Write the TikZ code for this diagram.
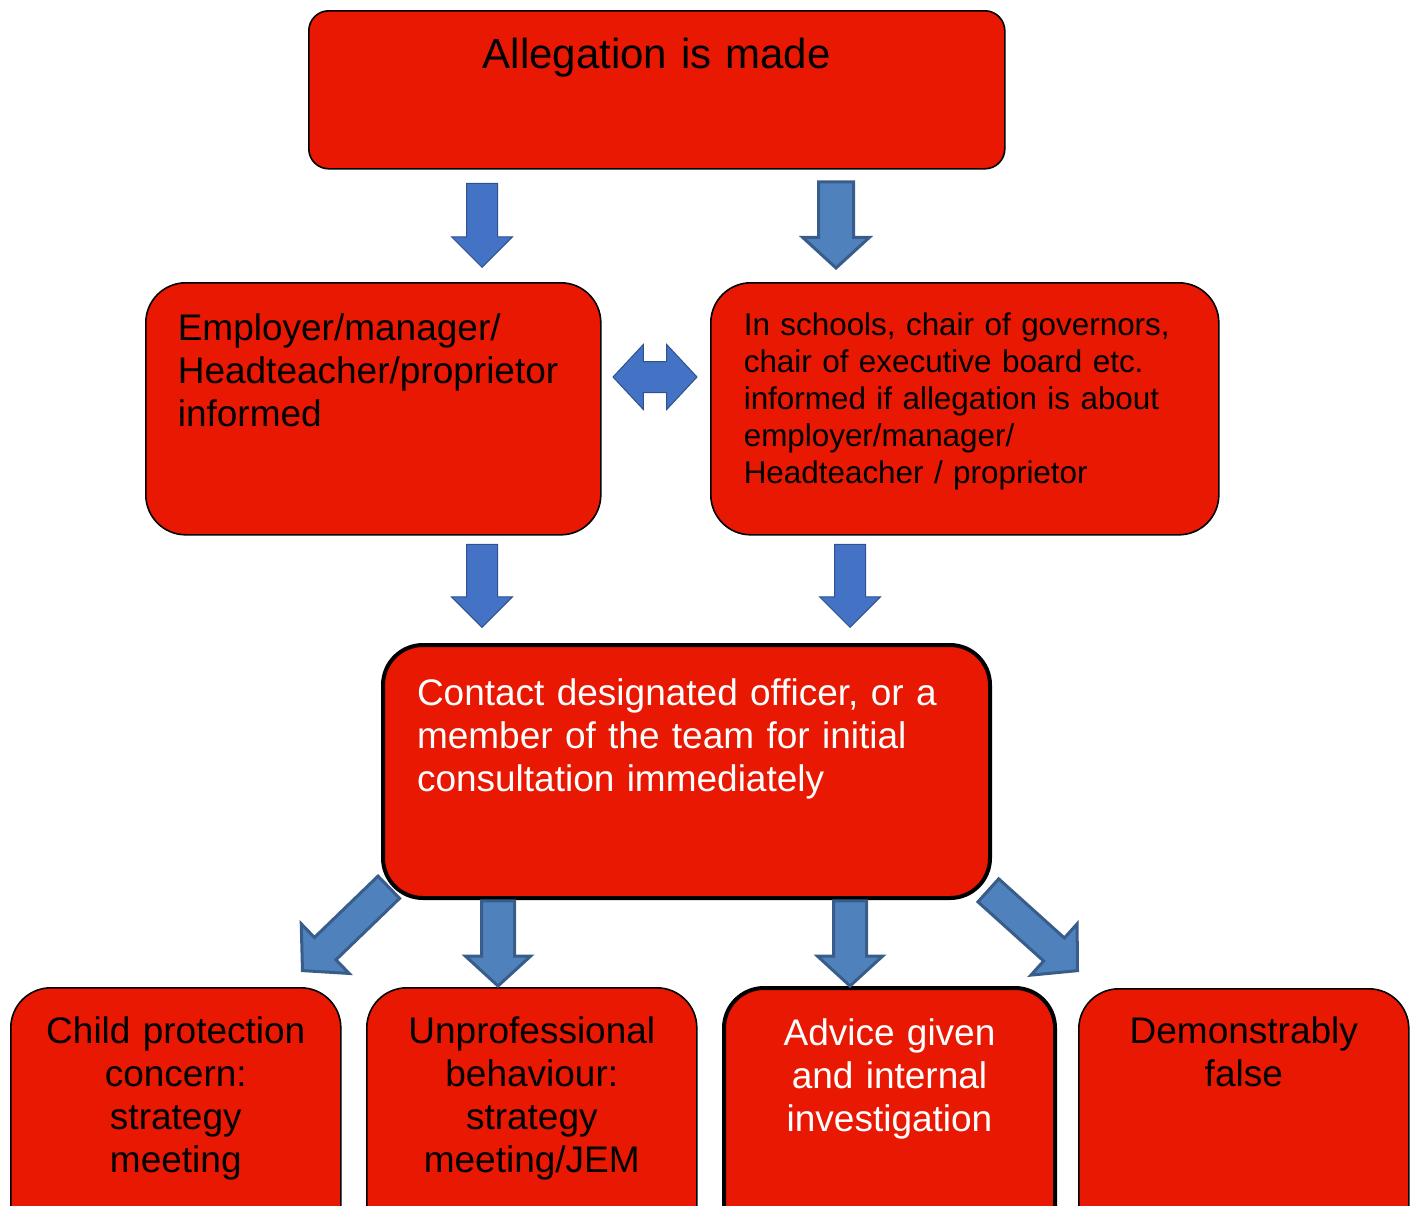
\documentclass[tikz,border=0pt]{standalone}
\usepackage{fontspec}
\setmainfont{Liberation Sans}
\usetikzlibrary{shapes.arrows}

\definecolor{boxred}{RGB}{232,24,2}
\definecolor{arrowblue}{RGB}{68,114,196}
\definecolor{arrowblueedge}{RGB}{47,82,143}
\definecolor{arrowsteel}{RGB}{79,129,189}
\definecolor{arrowsteeledge}{RGB}{56,93,138}

\tikzset{
  redbox/.style={rectangle, rounded corners=20pt, draw=black, fill=boxred, line width=0.8pt,
    inner ysep=0pt, anchor=north west},
  thickbox/.style={redbox, line width=2pt},
  bigfont/.style={font=\fontsize{18.5pt}{21.5pt}\selectfont},
  smallfont/.style={font=\fontsize{15.7pt}{18.5pt}\selectfont},
  bluearrow/.style={single arrow, draw=arrowblueedge, fill=arrowblue, line width=0.5pt,
    inner xsep=0pt, inner ysep=7.5pt, minimum width=1pt, single arrow head extend=7.5pt,
    single arrow tip angle=90, anchor=tip},
  steelarrow/.style={single arrow, draw=arrowsteeledge, fill=arrowsteel, line width=1.5pt,
    inner xsep=0pt, inner ysep=7.5pt, minimum width=1pt, single arrow head extend=8pt,
    single arrow tip angle=95, anchor=tip},
  bluedouble/.style={double arrow, draw=arrowblueedge, fill=arrowblue, line width=0.5pt,
    inner xsep=0pt, inner ysep=7.5pt, minimum width=1pt, double arrow head extend=8.5pt,
    double arrow tip angle=94, minimum height=42pt}
}

\begin{document}
\begin{tikzpicture}[x=0.5pt,y=-0.5pt]
\useasboundingbox (0,0) rectangle (1416,1205);
\clip (0,0) rectangle (1416,1205);

%Shape: Rounded Rectangle
\node[redbox, rounded corners=10pt, text width=348pt, inner xsep=0pt, align=center,
  text height=29pt, text depth=50pt, font=\fontsize{21pt}{24pt}\selectfont] (allegation) at (308,10) {Allegation is made};
%Shape: Rounded Rectangle
\node[redbox, bigfont, text width=195.5pt, inner xsep=16pt, align=left,
  text height=29pt, text depth=97pt] (employer) at (145,282) {Employer/manager/\\Headteacher/proprietor\\informed};
%Shape: Rounded Rectangle
\node[redbox, smallfont, text width=221pt, inner xsep=16.5pt, align=left,
  text height=26.25pt, text depth=99.75pt] (governors) at (710,282) {In schools, chair of governors,\\chair of executive board etc.\\informed if allegation is about\\employer/manager/\\Headteacher / proprietor};
%Shape: Rounded Rectangle
\node[thickbox, bigfont, text=white, text width=269.5pt, inner xsep=17pt, align=left,
  text height=30pt, text depth=96.5pt] (contact) at (381,643) {Contact designated officer, or a\\member of the team for initial\\consultation immediately};

%Shape: Rounded Rectangle
\node[redbox, bigfont, text width=165pt, inner xsep=0pt, align=center,
  text height=28pt, text depth=102pt] (protection) at (10,987) {Child protection\\concern:\\strategy\\meeting};
%Shape: Rounded Rectangle
\node[redbox, bigfont, text width=165pt, inner xsep=0pt, align=center,
  text height=28pt, text depth=102pt] (unprofessional) at (366,987) {Unprofessional\\behaviour:\\strategy\\meeting/JEM};
%Shape: Rounded Rectangle
\node[thickbox, bigfont, text=white, text width=165.5pt, inner xsep=0pt, align=center,
  text height=28.5pt, text depth=102pt] (advice) at (722,986) {Advice given\\and internal\\investigation};
%Shape: Rounded Rectangle
\node[redbox, bigfont, text width=165pt, inner xsep=0pt, align=center,
  text height=27.5pt, text depth=102pt] (false) at (1078,988) {Demonstrably\\false};

%Block Arrows
\node[bluearrow, rotate=-90, minimum height=42pt] (downleft) at (482,268) {};
\node[steelarrow, rotate=-90, minimum height=43pt, inner ysep=8pt] (downright) at (836,270) {};
\node[bluedouble] (both) at (655,377) {};
\node[bluearrow, rotate=-90, minimum height=41.5pt] (toofficer1) at (482,628) {};
\node[bluearrow, rotate=-90, minimum height=41.5pt] (toofficer2) at (850,628) {};
\node[steelarrow, rotate=224, minimum height=60pt, inner ysep=7pt, single arrow head extend=9.5pt] (toprotection) at (301,972) {};
\node[steelarrow, rotate=-90, minimum height=42.5pt] (tounprofessional) at (498,988) {};
\node[steelarrow, rotate=-90, minimum height=42.5pt] (toadvice) at (850,988) {};
\node[steelarrow, rotate=-42, minimum height=60pt, inner ysep=7pt, single arrow head extend=9.5pt] (tofalse) at (1079,972) {};
\end{tikzpicture}
\end{document}
